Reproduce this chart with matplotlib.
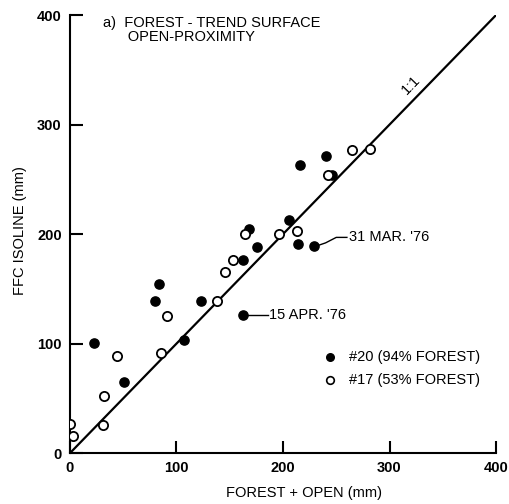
import matplotlib
matplotlib.use("Agg")
import matplotlib.pyplot as plt

plt.rcParams['font.family'] = ['Liberation Sans', 'DejaVu Sans']

# site 20 (94% forest) - filled
x20 = [23, 51, 84, 80, 107, 123, 162, 162, 168, 176, 206, 214, 229, 216, 240, 246]
y20 = [101, 65, 154, 139, 103, 139, 176, 126, 205, 188, 213, 191, 189, 263, 271, 254]

# site 17 (53% forest) - open
x17 = [0, 3, 44, 32, 31, 91, 85, 138, 146, 153, 164, 196, 213, 242, 265, 282]
y17 = [27, 16, 89, 52, 26, 125, 91, 139, 165, 176, 200, 200, 203, 254, 277, 278]

ticks = [0, 100, 200, 300, 400]

fig = plt.figure(figsize=(5.09, 5.04), dpi=100)
ax = fig.add_axes([0.1375, 0.101, 0.837, 0.869])

ax.plot([0, 400], [0, 400], color='black', lw=1.6, zorder=1)

ax.scatter(x20, y20, s=44, c='black', edgecolors='black', linewidths=1.0, zorder=3)
ax.scatter(x17, y17, s=44, facecolors='white', edgecolors='black', linewidths=1.3, zorder=3)

ax.set_xlim(0, 400)
ax.set_ylim(0, 400)
ax.set_xticks(ticks)
ax.set_yticks(ticks)
ax.spines['top'].set_visible(False)
ax.spines['right'].set_visible(False)
ax.spines['left'].set_linewidth(1.5)
ax.spines['bottom'].set_linewidth(1.5)
ax.tick_params(axis='x', direction='in', length=9, width=1.5, labelsize=10.5, pad=6)
ax.tick_params(axis='y', direction='in', length=9, width=1.5, labelsize=10.5, pad=6)
for lab in ax.get_xticklabels() + ax.get_yticklabels():
    lab.set_fontweight('bold')

ax.set_xlabel("FOREST + OPEN (mm)", fontsize=10.5)
ax.set_ylabel("FFC ISOLINE (mm)", fontsize=10.5)
ax.xaxis.set_label_coords(0.55, -0.075)
ax.yaxis.set_label_coords(-0.10, 0.507)

ax.text(31, 399, "a)  FOREST - TREND SURFACE\n      OPEN-PROXIMITY", fontsize=10.5,
        va='top', ha='left', linespacing=0.95)
ax.text(320, 336, "1:1", fontsize=10.5, rotation=46, ha='center', va='center',
        rotation_mode='anchor')

# date annotations
ax.plot([234, 240, 250, 260], [190, 192, 197, 197], color='black', lw=1.0)
ax.text(262, 197, "31 MAR. '76", fontsize=10.5, va='center', ha='left')
ax.plot([166, 186], [126, 126], color='black', lw=1.0)
ax.text(187, 126, "15 APR. '76", fontsize=10.5, va='center', ha='left')

# legend drawn by hand
ax.scatter([244], [88], s=30, c='black', zorder=3)
ax.scatter([244], [67], s=30, facecolors='white', edgecolors='black', linewidths=1.2, zorder=3)
ax.text(262, 88, "#20 (94% FOREST)", fontsize=10.5, va='center', ha='left')
ax.text(262, 67, "#17 (53% FOREST)", fontsize=10.5, va='center', ha='left')

fig.savefig("out.png", dpi=100)
